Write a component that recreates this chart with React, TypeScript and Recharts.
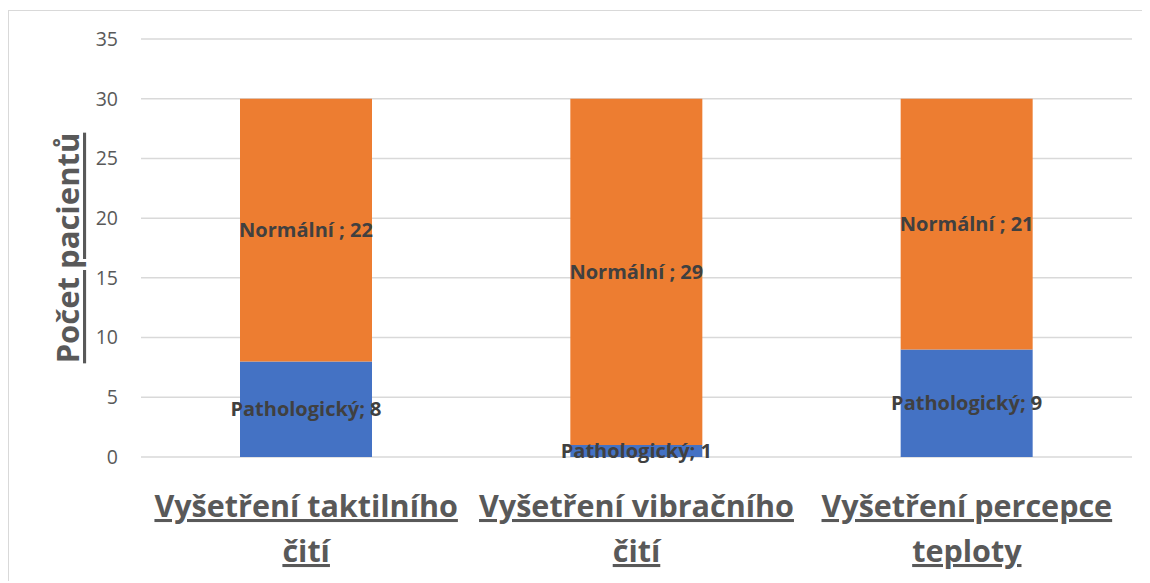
import { BarChart, Bar, XAxis, YAxis, CartesianGrid, LabelList, Label } from "recharts";

const categories = [
  ["Vyšetření taktilního", "čití"],
  ["Vyšetření vibračního", "čití"],
  ["Vyšetření percepce", "teploty"],
];
const pathologicke = [8, 1, 9];
const normalni = [22, 29, 21];
const yTicks = [0, 5, 10, 15, 20, 25, 30, 35];

const data = categories.map((lines, i) => ({
  name: lines.join(" "),
  lines,
  pathologicky: pathologicke[i],
  normalni: normalni[i],
}));

const FONT = "'Open Sans', 'Noto Sans', sans-serif";
const AXIS_GREY = "#595959";
const LABEL_GREY = "#404040";

function CategoryTick({ x, y, index }: any) {
  const lines = categories[index] ?? [];
  return (
    <g>
      {lines.map((line, i) => (
        <text
          key={i}
          x={x}
          y={y + 60 + i * 45}
          textAnchor="middle"
          fill={AXIS_GREY}
          fontFamily={FONT}
          fontWeight="bold"
          fontSize={30.5}
          style={{ textDecoration: "underline" }}
        >
          {line}
        </text>
      ))}
    </g>
  );
}

function YTitle({ viewBox }: any) {
  const cy = viewBox.y + viewBox.height / 2;
  const cx = 58;
  return (
    <text
      x={cx}
      y={cy}
      transform={`rotate(-90 ${cx} ${cy})`}
      textAnchor="middle"
      dominantBaseline="central"
      fill={AXIS_GREY}
      fontFamily={FONT}
      fontWeight="bold"
      fontSize={31}
      style={{ textDecoration: "underline" }}
    >
      Počet pacientů
    </text>
  );
}

const labelStyle = {
  fill: LABEL_GREY,
  fontFamily: FONT,
  fontWeight: "bold",
  fontSize: 20,
};

export default function App() {
  return (
    <div
      style={{
        position: "relative",
        top: 2,
        width: 1141,
        height: 572,
        border: "1px solid #d9d9d9",
        borderRight: "none",
        borderBottom: "none",
        background: "#fff",
      }}
    >
      <BarChart
        width={1141}
        height={572}
        data={data}
        margin={{ top: 28, right: 18, bottom: 0, left: 0 }}
        barSize={132}
      >
        <CartesianGrid vertical={false} stroke="#d9d9d9" strokeWidth={1.5} />
        <XAxis
          dataKey="name"
          height={126}
          axisLine={false}
          tickLine={false}
          tickSize={0}
          tickMargin={0}
          interval={0}
          tick={<CategoryTick />}
        />
        <YAxis
          width={132}
          domain={[0, 35]}
          ticks={yTicks}
          axisLine={false}
          tickLine={false}
          tickSize={0}
          tickMargin={23}
          tick={{ fill: AXIS_GREY, fontSize: 19.5, fontFamily: FONT }}
        >
          <Label content={<YTitle />} />
        </YAxis>
        <Bar dataKey="pathologicky" stackId="a" fill="#4472C4" isAnimationActive={false}>
          <LabelList
            dataKey="pathologicky"
            position="center"
            formatter={(v: any) => `Pathologický; ${v}`}
            style={labelStyle}
          />
        </Bar>
        <Bar dataKey="normalni" stackId="a" fill="#ED7D31" isAnimationActive={false}>
          <LabelList
            dataKey="normalni"
            position="center"
            formatter={(v: any) => `Normální ; ${v}`}
            style={labelStyle}
          />
        </Bar>
      </BarChart>
    </div>
  );
}
